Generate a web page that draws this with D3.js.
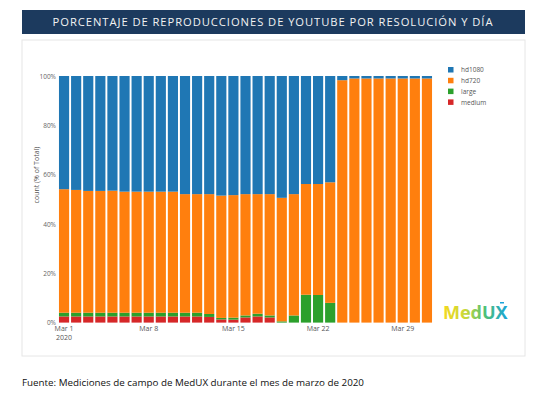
<!DOCTYPE html>
<html>
<head>
<meta charset="utf-8">
<script src="https://cdn.jsdelivr.net/npm/d3@7"></script>
<style>
  body { margin: 0; background: #fff; }
  text { font-family: "Open Sans", sans-serif; }
</style>
</head>
<body>
<div id="chart"></div>
<script>
// data: daily share (%) per resolution, March 2020
var days = d3.range(1, 32).map(function(d) { return new Date(2020, 2, d); });
var seriesNames = ["medium", "large", "hd720", "hd1080"];
var legendNames = ["hd1080", "hd720", "large", "medium"];

var medium = [2.5, 2.5, 2.5, 2.5, 2.5, 2.5, 2.5, 2.5, 2.5, 2.5, 2.5, 2.5, 2.3, 1.3, 1.2, 2.1,
  2.5, 2.1, 0, 0, 0, 0, 0, 0, 0, 0, 0, 0, 0, 0, 0];
var large = [1.5, 1.5, 1.5, 1.5, 1.5, 1.5, 1.5, 1.5, 1.5, 1.5, 1.5, 1.5, 1.2, 0.6, 0.8, 0.8,
  1.1, 0.8, 0.5, 2.9, 11.3, 11.2, 8.0, 0, 0, 0, 0, 0, 0, 0, 0];
var hd720 = [50.1, 49.8, 49.4, 49.4, 49.5, 49.1, 49.1, 49.1, 49.1, 49.1, 48.1, 48.1, 48.6, 49.6, 49.7, 49.2,
  48.5, 49.2, 50.1, 49.2, 44.9, 45.0, 48.9, 98.3, 99.0, 99.0, 99.0, 99.0, 99.0, 99.0, 99.0];
var hd1080 = [45.9, 46.2, 46.6, 46.6, 46.5, 46.9, 46.9, 46.9, 46.9, 46.9, 47.9, 47.9, 47.9, 48.5, 48.3, 47.9,
  47.9, 47.9, 49.4, 47.9, 43.8, 43.8, 43.1, 1.7, 1.0, 1.0, 1.0, 1.0, 1.0, 1.0, 1.0];

var yTicks = [0, 20, 40, 60, 80, 100];
var xTickDays = [1, 8, 15, 22, 29];

var colors = { hd1080: "#1f77b4", hd720: "#ff7f0e", large: "#2ca02c", medium: "#d62728" };

var svgWidth = 560;
var svgHeight = 396;

var svg = d3.select("#chart").append("svg")
  .attr("width", svgWidth)
  .attr("height", svgHeight);

// card background
svg.append("rect")
  .attr("x", 22).attr("y", 40).attr("width", 503).attr("height", 316)
  .attr("fill", "#fff").attr("stroke", "#e6e6e6");

// title banner
svg.append("rect")
  .attr("x", 22).attr("y", 10).attr("width", 503).attr("height", 24)
  .attr("fill", "#1c3a5e");
svg.append("text")
  .attr("x", 273).attr("y", 26)
  .attr("text-anchor", "middle")
  .attr("fill", "#f2f2f2")
  .attr("font-size", "11.2px")
  .attr("letter-spacing", "0.95px")
  .text("PORCENTAJE DE REPRODUCCIONES DE YOUTUBE POR RESOLUCIÓN Y DÍA");

// build table for the stack
var table = days.map(function(d, i) {
  return { date: d, medium: medium[i], large: large[i], hd720: hd720[i], hd1080: hd1080[i] };
});
var stacked = d3.stack().keys(seriesNames)(table);

var x = d3.scaleBand()
  .domain(days)
  .range([58, 433])
  .paddingInner(0.16)
  .paddingOuter(0.08);

var y = d3.scaleLinear().domain([0, 100]).range([322.6, 76]);

var plot = svg.append("g");

plot.selectAll("g.series")
  .data(stacked)
  .enter()
  .append("g")
  .attr("class", "series")
  .attr("fill", function(s) { return colors[s.key]; })
  .selectAll("rect")
  .data(function(s) { return s; })
  .enter()
  .append("rect")
  .attr("x", function(d) { return x(d.data.date); })
  .attr("width", x.bandwidth())
  .attr("y", function(d) { return y(d[1]); })
  .attr("height", function(d) { return Math.max(0, y(d[0]) - y(d[1])); });

// y axis
var leftAxis = d3.axisLeft(y)
  .tickValues(yTicks)
  .tickSize(0)
  .tickPadding(2)
  .tickFormat(function(d) { return d + "%"; });
var yAxisG = svg.append("g").attr("transform", "translate(58,0)").call(leftAxis);
yAxisG.select(".domain").remove();
yAxisG.selectAll("text")
  .attr("fill", "#666")
  .attr("font-size", "6.5px")
  .attr("font-family", "Open Sans, sans-serif");

svg.append("text")
  .attr("transform", "translate(39,175) rotate(-90)")
  .attr("text-anchor", "middle")
  .attr("fill", "#555")
  .attr("font-size", "7px")
  .text("count (% of Total)");

// x axis
var timeFmt = d3.timeFormat("%b %-d");
var bottomAxis = d3.axisBottom(x)
  .tickValues(days.filter(function(d) { return xTickDays.indexOf(d.getDate()) >= 0; }))
  .tickSize(0)
  .tickPadding(3)
  .tickFormat(function(d) { return timeFmt(d); });
var xAxisG = svg.append("g").attr("transform", "translate(0,323)").call(bottomAxis);
xAxisG.select(".domain").remove();
xAxisG.selectAll("text")
  .attr("fill", "#555")
  .attr("font-size", "7px")
  .attr("font-family", "Open Sans, sans-serif");
xAxisG.select(".tick text")
  .append("tspan")
  .attr("x", 0)
  .attr("dy", "1.35em")
  .text("2020");

// legend
var legend = svg.append("g").attr("transform", "translate(448,67)");
var items = legend.selectAll("g")
  .data(legendNames)
  .enter()
  .append("g")
  .attr("transform", function(d, i) { return "translate(0," + (i * 10.8) + ")"; });
items.append("rect")
  .attr("width", 5.5).attr("height", 5.5)
  .attr("fill", function(d) { return colors[d]; });
items.append("text")
  .attr("x", 13).attr("y", 5.2)
  .attr("fill", "#555")
  .attr("font-size", "6.5px")
  .text(function(d) { return d; });

// MedUX logo
var defs = svg.append("defs");
var grad = defs.append("linearGradient").attr("id", "logoGrad")
  .attr("x1", "0%").attr("x2", "100%").attr("y1", "0%").attr("y2", "0%");
grad.append("stop").attr("offset", "0%").attr("stop-color", "#f4d81f");
grad.append("stop").attr("offset", "35%").attr("stop-color", "#c9d83a");
grad.append("stop").attr("offset", "65%").attr("stop-color", "#4fc076");
grad.append("stop").attr("offset", "100%").attr("stop-color", "#1aa3d9");
svg.append("text")
  .attr("x", 443).attr("y", 319)
  .attr("fill", "url(#logoGrad)")
  .attr("font-size", "18px")
  .attr("font-weight", "bold")
  .attr("font-family", "Lato, sans-serif")
  .text("MedUX");
svg.append("rect")
  .attr("x", 500).attr("y", 302).attr("width", 4).attr("height", 1.5)
  .attr("fill", "#1aa3d9");

// footer
svg.append("text")
  .attr("x", 22).attr("y", 386)
  .attr("fill", "#111")
  .attr("font-size", "9.8px")
  .text("Fuente: Mediciones de campo de MedUX durante el mes de marzo de 2020");
</script>
</body>
</html>
